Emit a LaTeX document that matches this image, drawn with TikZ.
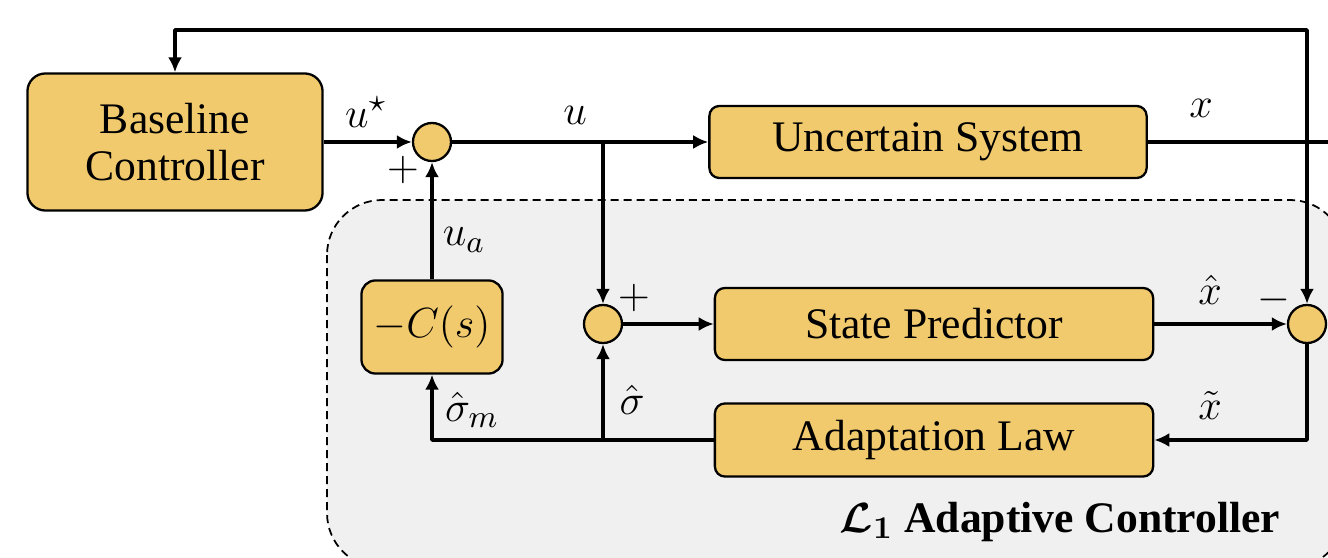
\documentclass[tikz,border=0pt]{standalone}
\usepackage{fontspec}
\setmainfont{Liberation Serif}
\usepackage{amsmath,bm}
\usetikzlibrary{arrows.meta,calc}
\definecolor{blockfill}{HTML}{F2CA6E}
\definecolor{regionfill}{HTML}{F0F0F0}

\begin{document}
\begin{tikzpicture}[x=0.01cm, y=-0.01cm, line width=1pt, line join=round,
  every node/.style={font=\fontsize{12.4}{14.2}\selectfont},
  block/.style={draw, line width=0.65pt, fill=blockfill, rounded corners=0.1cm, inner sep=0pt},
  sumnode/.style={draw, circle, fill=blockfill, line width=0.65pt, minimum size=0.38cm, inner sep=0pt},
  arr/.style={-{Latex[length=1.5mm, width=1.4mm]}}]
  \useasboundingbox (0,0) rectangle (1328,558);

  % L1 region
  \draw[line width=0.5pt, dash pattern=on 0.8mm off 0.5mm, fill=regionfill, rounded corners=0.55cm]
    (327,200) rectangle (1345,568);
  \node (l1lab) at (1060,522) {$\bm{\mathcal{L}_1}$ \textbf{Adaptive Controller}};

  % blocks
  \node[block, rounded corners=0.18cm, minimum width=2.95cm, minimum height=1.37cm, align=center] (base) at (175,142) {Baseline\\[-1pt]Controller};
  \node[sumnode] (sum1) at (432,142) {};
  \node[block, minimum width=4.37cm, minimum height=0.72cm] (sys) at (928,142) {Uncertain System};
  \node[block, rounded corners=0.14cm, minimum width=1.41cm, minimum height=0.93cm] (filt) at (432,327) {$-C(s)$};
  \node[sumnode] (sum2) at (603,324) {};
  \node[block, minimum width=4.38cm, minimum height=0.72cm] (pred) at (934,324) {State Predictor};
  \node[sumnode] (sum3) at (1307,324) {};
  \node[block, minimum width=4.38cm, minimum height=0.73cm] (adapt) at (934,440) {Adaptation Law};

  % branch points
  \coordinate (ubr) at (sum2 |- sys);
  \coordinate (xbr) at (sum3 |- sys);
  \coordinate (sbr) at (sum2 |- adapt);
  \coordinate (xend) at (1340,142);
  \coordinate (fbtop) at (1307,30);

  % signals
  \draw[arr] (base.east) -- (sum1.west);
  \draw[arr] (sum1.east) -- (sys.west);
  \draw[arr] (ubr) -- (sum2.north);
  \draw (sys.east) -- (xend);
  \draw[arr] (xbr) -- (fbtop) -| (base.north);
  \draw[arr] (xbr) -- (sum3.north);
  \draw[arr] (filt.north) -- (sum1.south);
  \draw[arr] (sum2.east) -- (pred.west);
  \draw[arr] (pred.east) -- (sum3.west);
  \draw[arr] (sum3.south) |- (adapt.east);
  \draw[arr] (adapt.west) -| (filt.south);
  \draw[arr] (sbr) -- (sum2.south);

  % labels
  \node (lustar) at (366,112) {$u^\star$};
  \node (lplus1) at (403,170) {$+$};
  \node (lu) at (575,115) {$u$};
  \node (lx) at (1201,108) {$x$};
  \node (lua) at (464,240) {$u_a$};
  \node (lplus2) at (634,298) {$+$};
  \node (lxhat) at (1210,290) {$\hat{x}$};
  \node (lminus) at (1274,300) {$-$};
  \node (lxtil) at (1210,405) {$\tilde{x}$};
  \node (lsigm) at (472,410) {$\hat{\sigma}_m$};
  \node (lsig) at (632,400) {$\hat{\sigma}$};
\end{tikzpicture}
\end{document}
